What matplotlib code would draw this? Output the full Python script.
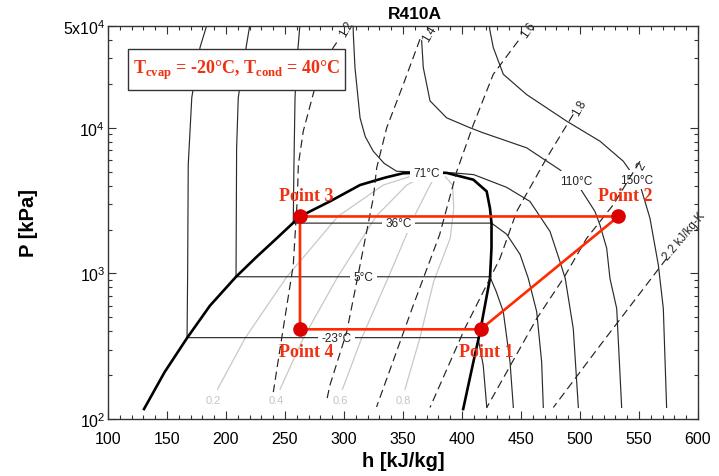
import matplotlib
matplotlib.use('Agg')
import matplotlib.pyplot as plt
from matplotlib.patches import Rectangle
from matplotlib.ticker import FixedLocator, LogLocator, MultipleLocator, NullFormatter

plt.rcParams['font.family'] = ['Liberation Sans', 'DejaVu Sans']
plt.rcParams['mathtext.fontset'] = 'custom'
plt.rcParams['mathtext.rm'] = 'Liberation Sans'
plt.rcParams['mathtext.bf'] = 'Liberation Serif:bold'

# ---------------- data ----------------
# saturation dome (liquid side, critical point, vapour side)
dome_h = [130.5, 148, 167, 186.4, 208.5, 226, 243, 262.7, 288, 313.6, 335, 350, 372,
          387, 409.6, 420.9, 423.7, 425, 425, 423.7, 415.3, 409.6, 401]
dome_P = [117, 210, 360, 600, 948, 1300, 1742, 2460, 3120, 4045, 4550, 4870, 4950,
          4900, 4400, 3660, 2800, 2214, 1500, 923, 396, 246, 117]

# isotherms (h, P) from top-left to bottom-right
iso_m23_h = [184, 178, 171, 168, 167.5, 167, 413.5, 415.5, 418, 421]
iso_m23_P = [51500, 35650, 16100, 5560, 1000, 362, 362, 300, 233, 120]
iso_5_h = [220.3, 214.7, 210.4, 209, 208.5, 423.7, 429, 435, 440.7, 443.5]
iso_5_P = [51500, 27400, 16100, 7280, 948, 948, 750, 545, 246, 120]
iso_36_h = [262.7, 259.9, 258.5, 257.5, 257, 425, 437.8, 449.2, 456.2, 463.3, 467.5, 468.9]
iso_36_P = [51500, 27400, 16100, 5000, 2214, 2214, 1860, 1350, 923, 545, 246, 120]
iso_71_h = [307.7, 307.9, 309.3, 313.6, 318, 324.8, 334, 344.6, 372, 392.7, 410, 437.8,
            457.6, 474.6, 483, 487.5, 494.3, 498.6]
iso_71_P = [51500, 44000, 25900, 11700, 8700, 6900, 5700, 5025, 4950, 4900, 4765, 3900,
            3120, 1940, 1205, 923, 417, 120]
iso_110_h = [365.8, 367.2, 372.9, 387, 406.8, 417.8, 454.8, 483, 500, 512.7, 516.9,
             522.6, 525.4, 531.1, 535.3]
iso_110_P = [39600, 25900, 15300, 11700, 10000, 9240, 7280, 5140, 3850, 2660, 2150,
             1490, 923, 574, 120]
iso_150_h = [423, 423.7, 426.5, 435, 454.8, 488.7, 516.9, 536.7, 550.8, 559.3, 566.4,
             570.6, 573.4]
iso_150_P = [51500, 46400, 35600, 23300, 16900, 11100, 8090, 5890, 4070, 2390, 1140,
             574, 120]
isotherms = [(iso_m23_h, iso_m23_P), (iso_5_h, iso_5_P), (iso_36_h, iso_36_P),
             (iso_71_h, iso_71_P), (iso_110_h, iso_110_P), (iso_150_h, iso_150_P)]
iso_labels = ['-23°C', '5°C', '36°C', '71°C', '110°C', '150°C']
iso_label_h = [293.7, 316.4, 346, 370, 497, 548]
iso_label_P = [362, 948, 2214, 4900, 4340, 4400]

# isentropes (dashed)
s12_h = [293.8, 290.9, 276.9, 265.5, 261.3, 260.5, 259.5, 257, 245.8, 240.1]
s12_P = [38500, 35600, 21000, 9490, 5580, 3290, 2460, 1140, 304, 153]
s14_h = [364.4, 350.3, 336.2, 327.7, 324.8, 313.6, 302.3, 288, 285]
s14_P = [40600, 19900, 10000, 5300, 3290, 1140, 396, 170, 130]
s16_h = [447.7, 426.5, 409.6, 395.5, 381, 358.7, 327.6]
s16_P = [39600, 23300, 10500, 5000, 1840, 604, 121]
s18_h = [494.3, 471.8, 446.4, 432.2, 402.3, 372.9]
s18_P = [12360, 6210, 2670, 1268, 417, 120]
s20_h = [550.8, 528.2, 505.6, 485.9, 463.3, 421]
s20_P = [5890, 2960, 1740, 923, 489, 120]
s22_h = [573.4, 517, 477.4]
s22_P = [1268, 320, 120]
isentropes = [(s12_h, s12_P), (s14_h, s14_P), (s16_h, s16_P),
              (s18_h, s18_P), (s20_h, s20_P), (s22_h, s22_P)]
s_labels = ['1.2', '1.4', '1.6', '1.8', '2', '2.2 kJ/kg-K']
s_label_h = [302, 372.9, 455.9, 500, 551.7, 588.1]
s_label_P = [48200, 44400, 47400, 13700, 5470, 1828]
s_label_rot = [60, 60, 55, 60, 60, 50]

# quality lines (grey)
x02_h = [192.8, 216.3, 251.6, 295, 333.4, 355]
x04_h = [245.8, 265.6, 294.7, 327.3, 353.2, 366]
x06_h = [298.7, 315, 337.8, 359.6, 373, 377]
x08_h = [351.7, 364.3, 376, 390, 393, 392, 386]
x_P = [160, 360, 948, 2470, 4045, 4600]
x08_P = [160, 360, 880, 1740, 2800, 4045, 4600]
qualities = [(x02_h, x_P), (x04_h, x_P), (x06_h, x_P), (x08_h, x08_P)]
q_labels = ['0.2', '0.4', '0.6', '0.8']
q_label_h = [189, 243, 297, 350]
q_label_P = [134, 134, 134, 134]

# refrigeration cycle
cycle_h = [415.8, 532.5, 262.7, 262.7]
cycle_P = [413, 2460, 2460, 413]
point_names = ['Point 1', 'Point 2', 'Point 3', 'Point 4']
point_label_h = [420.9, 538.1, 268.3, 268.3]
point_label_P = [290, 3450, 3450, 290]

# ---------------- figure ----------------
fig = plt.figure(figsize=(7.19, 4.77), dpi=100)
ax = fig.add_axes([0.1502, 0.1195, 0.8206, 0.8239])
ax.set_yscale('log')
ax.set_xlim(100, 600)
ax.set_ylim(100, 50000)

line_col = '#2b2b2b'
for h, P in isotherms:
    ax.plot(h, P, color=line_col, lw=0.85, zorder=1.1, solid_joinstyle='round')

for h, P in qualities:
    ax.plot(h, P, color='#c8c8c8', lw=0.9, zorder=1.05)

ax.plot(dome_h, dome_P, color='black', lw=1.9, zorder=1.2, solid_joinstyle='round')

for name, h, P in zip(iso_labels, iso_label_h, iso_label_P):
    ax.text(h, P, name, fontsize=8.5, color='#222222', ha='center', va='center',
            zorder=1.5, bbox=dict(boxstyle='square,pad=0.3', fc='white', ec='none'))

for h, P in isentropes:
    ax.plot(h, P, color='#222222', lw=0.85, linestyle=(0, (7, 4)), zorder=2)

for name, h, P, r in zip(s_labels, s_label_h, s_label_P, s_label_rot):
    ax.text(h, P, name, fontsize=8.5, color='#222222', ha='center', va='center',
            rotation=r, zorder=2.1, clip_on=False)

for name, h, P in zip(q_labels, q_label_h, q_label_P):
    ax.text(h, P, name, fontsize=8, color='#c4c4c4', ha='center', va='center', zorder=1.5)

# cycle
red_line = '#ff2a00'
ax.plot(cycle_h + cycle_h[:1], cycle_P + cycle_P[:1], color=red_line, lw=1.9, zorder=5)
ax.plot(cycle_h, cycle_P, linestyle='none', marker='o', ms=9.5, color='#dd0000',
        mec='#dd0000', zorder=6)
for name, h, P in zip(point_names, point_label_h, point_label_P):
    ax.text(h, P, name, fontsize=13, color='#f03010', fontweight='bold',
            family='Liberation Serif', ha='center', va='center', zorder=7)

# legend box
ax.add_patch(Rectangle((0.0339, 0.837), 0.3678, 0.1045, transform=ax.transAxes,
                       fc='white', ec='#333333', lw=1.0, zorder=8))
ax.text(0.2178, 0.889, r'T$_{\mathbf{cvap}}$ = -20°C, T$_{\mathbf{cond}}$ = 40°C',
        transform=ax.transAxes, fontsize=13, color='#f03010', fontweight='bold',
        family='Liberation Serif', ha='center', va='center', zorder=9)

# axes styling
ax.xaxis.set_major_locator(MultipleLocator(50))
ax.xaxis.set_minor_locator(MultipleLocator(10))
ax.yaxis.set_major_locator(FixedLocator([100, 1000, 10000, 50000]))
ax.yaxis.set_minor_locator(LogLocator(base=10, subs=[2, 3, 4, 5, 6, 7, 8, 9]))
ax.yaxis.set_minor_formatter(NullFormatter())
ax.set_yticklabels([r'$\mathregular{10^2}$', r'$\mathregular{10^3}$',
                    r'$\mathregular{10^4}$', r'$\mathregular{5x10^4}$'])
ax.tick_params(which='both', direction='in', top=True, right=True, labelsize=11.5,
               color='#333333', width=0.8)
ax.tick_params(which='major', length=6)
ax.tick_params(which='minor', length=3)
ax.tick_params(axis='x', which='major', pad=9)
ax.tick_params(axis='y', which='major', pad=2)
for sp in ax.spines.values():
    sp.set_linewidth(1.0)
    sp.set_color('#333333')

ax.set_xlabel('h [kJ/kg]', fontsize=14.5, fontweight='bold', labelpad=3)
ax.set_ylabel('P [kPa]', fontsize=14.5, fontweight='bold', labelpad=18)
fig.text(0.577, 0.970, 'R410A', fontsize=12.5, fontweight='bold', ha='center', va='center')

fig.savefig('out.png', dpi=100)
